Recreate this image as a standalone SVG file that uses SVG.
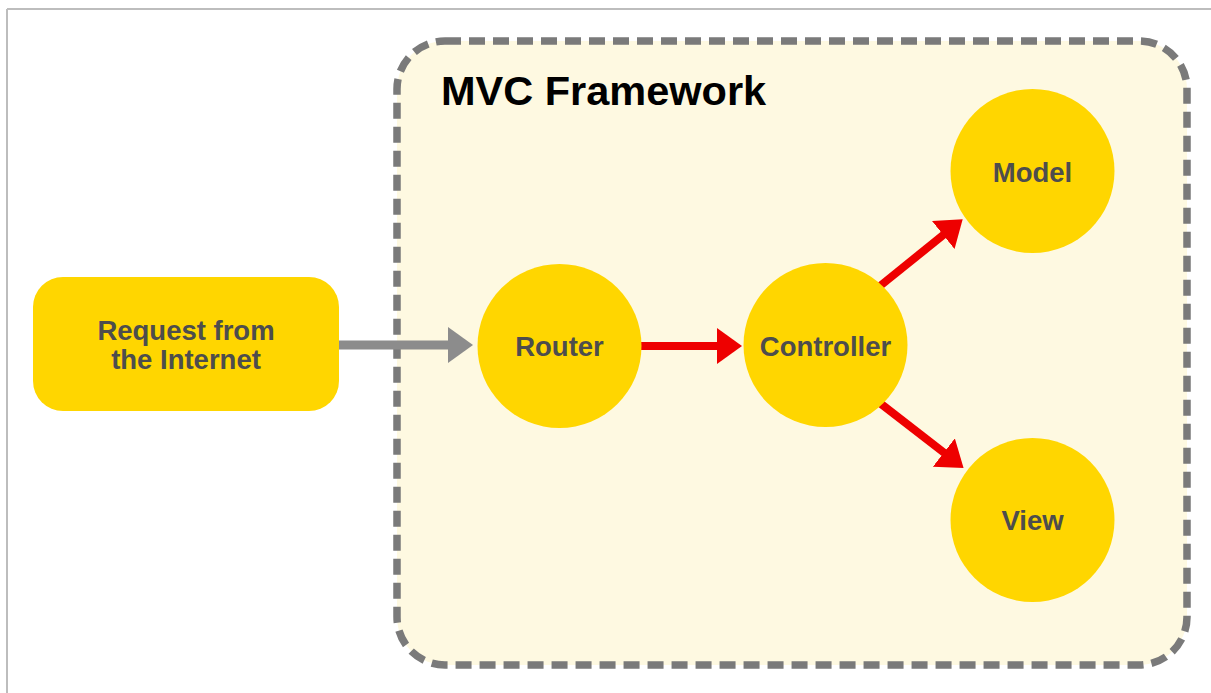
<svg xmlns="http://www.w3.org/2000/svg" width="1211" height="693" viewBox="0 0 1211 693">
  <style>
    .lbl { font-family: "Liberation Sans", Arial, sans-serif; font-weight: bold; font-size: 27.5px; fill: #4d4d4d; text-anchor: middle; }
    .node { fill: #ffd600; }
    .red { stroke: #ee0000; stroke-width: 8; fill: none; }
    .gray { stroke: #8c8c8c; stroke-width: 9; fill: none; }
  </style>
  <defs>
    <marker id="ahRed" markerUnits="userSpaceOnUse" markerWidth="26" markerHeight="36" refX="1" refY="18" orient="auto" viewBox="0 0 26 36">
      <path d="M0,0 L25,18 L0,36 Z" fill="#ee0000"/>
    </marker>
    <marker id="ahGray" markerUnits="userSpaceOnUse" markerWidth="26" markerHeight="36" refX="1" refY="18" orient="auto" viewBox="0 0 26 36">
      <path d="M0,0 L25,18 L0,36 Z" fill="#8c8c8c"/>
    </marker>
  </defs>
  <rect x="0" y="0" width="1211" height="693" fill="#ffffff"/>
  <g id="page-border" stroke="#bdbdbd" stroke-width="2" fill="none">
    <line x1="7" y1="9" x2="1211" y2="9"/>
    <line x1="7" y1="9" x2="7" y2="693"/>
  </g>
  <g id="mvc-framework">
    <rect x="397" y="41" width="790" height="624" rx="48" ry="48" fill="#fef9e1" stroke="#7a7a7a" stroke-width="7.5" stroke-dasharray="16 8"/>
    <text x="441" y="105" font-family="'Liberation Sans', Arial, sans-serif" font-weight="bold" font-size="41.5" fill="#000000">MVC Framework</text>
  </g>
  <g id="connectors">
    <line class="gray" x1="338" y1="345" x2="449" y2="345" marker-end="url(#ahGray)"/>
    <line class="red" x1="630" y1="346" x2="718" y2="346" marker-end="url(#ahRed)"/>
    <line class="red" x1="880" y1="286" x2="944" y2="234.4" marker-end="url(#ahRed)"/>
    <line class="red" x1="876" y1="400" x2="944.6" y2="453.2" marker-end="url(#ahRed)"/>
  </g>
  <g id="request">
    <rect class="node" x="33" y="277" width="306" height="134" rx="30" ry="30"/>
    <text class="lbl" x="186" y="340">Request from</text>
    <text class="lbl" x="186" y="369">the Internet</text>
  </g>
  <g id="router">
    <circle class="node" cx="559.5" cy="346" r="82"/>
    <text class="lbl" x="559.5" y="356">Router</text>
  </g>
  <g id="controller">
    <circle class="node" cx="825.5" cy="345" r="82"/>
    <text class="lbl" x="825.5" y="356">Controller</text>
  </g>
  <g id="model">
    <circle class="node" cx="1032.5" cy="171" r="82"/>
    <text class="lbl" x="1032.5" y="182">Model</text>
  </g>
  <g id="view">
    <circle class="node" cx="1032.5" cy="520" r="82"/>
    <text class="lbl" x="1032.5" y="530">View</text>
  </g>
</svg>
